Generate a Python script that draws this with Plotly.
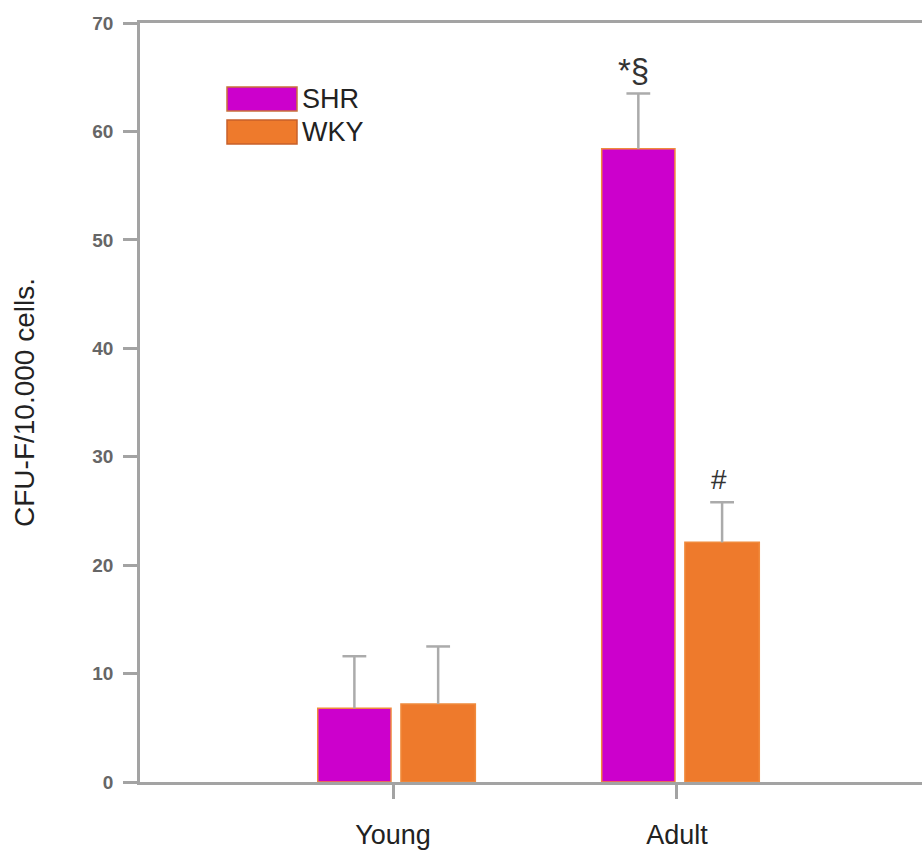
import plotly.graph_objects as go

categories = ["Young", "Adult"]
cat_pos = [0, 1]
shr_values = [6.8, 58.4]
wky_values = [7.2, 22.1]
shr_err = [4.8, 5.1]
wky_err = [5.3, 3.7]
y_ticks = [0, 10, 20, 30, 40, 50, 60, 70]
annot_labels = ["*§", "#"]

SHR_COLOR = "#CC00CC"
WKY_COLOR = "#EE7A2C"
EDGE = "#F08A3C"
AXIS = "#A3A3A3"
ERR = "#ABABAB"

SHR_OFF, SHR_W = -0.265, 0.258
WKY_OFF, WKY_W = 0.028, 0.262

fig = go.Figure()
for vals, errs, off, w, col in [(shr_values, shr_err, SHR_OFF, SHR_W, SHR_COLOR),
                                (wky_values, wky_err, WKY_OFF, WKY_W, WKY_COLOR)]:
    fig.add_trace(go.Bar(
        x=cat_pos, y=vals, offset=off, width=w,
        marker=dict(color=col, line=dict(color=EDGE, width=1.5)),
        showlegend=False,
    ))
    # upper error whiskers
    xs = [p + off + w / 2 for p in cat_pos]
    tops = [v + e for v, e in zip(vals, errs)]
    fig.add_trace(go.Scatter(
        x=xs, y=tops, mode="markers",
        marker=dict(symbol="line-ew", size=17, line=dict(color=ERR, width=2.5)),
        error_y=dict(type="data", array=[0] * len(errs), arrayminus=errs, symmetric=False,
                     color=ERR, thickness=2.5, width=0),
        showlegend=False, hoverinfo="skip",
    ))

# significance markers
fig.add_annotation(x=cat_pos[1] + SHR_OFF + SHR_W / 2, y=shr_values[1] + shr_err[1],
                   text=annot_labels[0], showarrow=False, yanchor="bottom", xshift=-5, yshift=2,
                   font=dict(size=33, color="#333", family="Liberation Sans, Arial"))
fig.add_annotation(x=cat_pos[1] + WKY_OFF + WKY_W / 2, y=wky_values[1] + wky_err[1],
                   text=annot_labels[1], showarrow=False, yanchor="bottom", xshift=-3, yshift=5,
                   font=dict(size=28, color="#333", family="Liberation Sans, Arial"))

# custom legend
PH = 759
PW = 782
for i, (nm, col, edge) in enumerate([("SHR", SHR_COLOR, "#C8703A"), ("WKY", WKY_COLOR, "#C8602A")]):
    top = 87 + i * 33
    fig.add_shape(type="rect", xref="paper", yref="paper",
                  x0=(227 - 140) / PW, x1=(297 - 140) / PW,
                  y0=1 - (top + 24 - 23) / PH, y1=1 - (top - 23) / PH,
                  fillcolor=col, line=dict(color=edge, width=1.5))
    fig.add_annotation(xref="paper", yref="paper", x=(300 - 140) / PW,
                       y=1 - (top + 12 - 23) / PH,
                       text=nm, showarrow=False, xanchor="left", yanchor="middle",
                       font=dict(size=27, color="#222", family="Liberation Sans, Arial"))

fig.update_layout(
    width=922, height=853,
    margin=dict(l=140, r=0, t=23, b=71),
    plot_bgcolor="white", paper_bgcolor="white",
    barmode="overlay",
    font=dict(family="Liberation Sans, Arial"),
)
fig.update_xaxes(
    range=[-0.891, 1.863], tickvals=cat_pos, ticktext=categories,
    showline=True, linecolor=AXIS, linewidth=2.5, mirror=True,
    ticks="outside", ticklen=14, tickwidth=2.5, tickcolor=AXIS,
    tickfont=dict(size=27, color="#222"), ticklabelstandoff=13,
    showgrid=False, zeroline=False,
)
fig.update_yaxes(
    range=[0, 70], tickvals=y_ticks,
    showline=True, linecolor=AXIS, linewidth=2.5,
    ticks="outside", ticklen=14, tickwidth=2.5, tickcolor=AXIS,
    tickfont=dict(size=19, color="#666", weight="bold"), ticklabelstandoff=6,
    showgrid=False, zeroline=False,
    title=dict(text="CFU-F/10.000 cells.", font=dict(size=28, color="#222"), standoff=50),
)

fig.write_html("out.html", config={"displayModeBar": False},
               post_script="document.body.style.margin='0';document.body.style.overflow='hidden';")
